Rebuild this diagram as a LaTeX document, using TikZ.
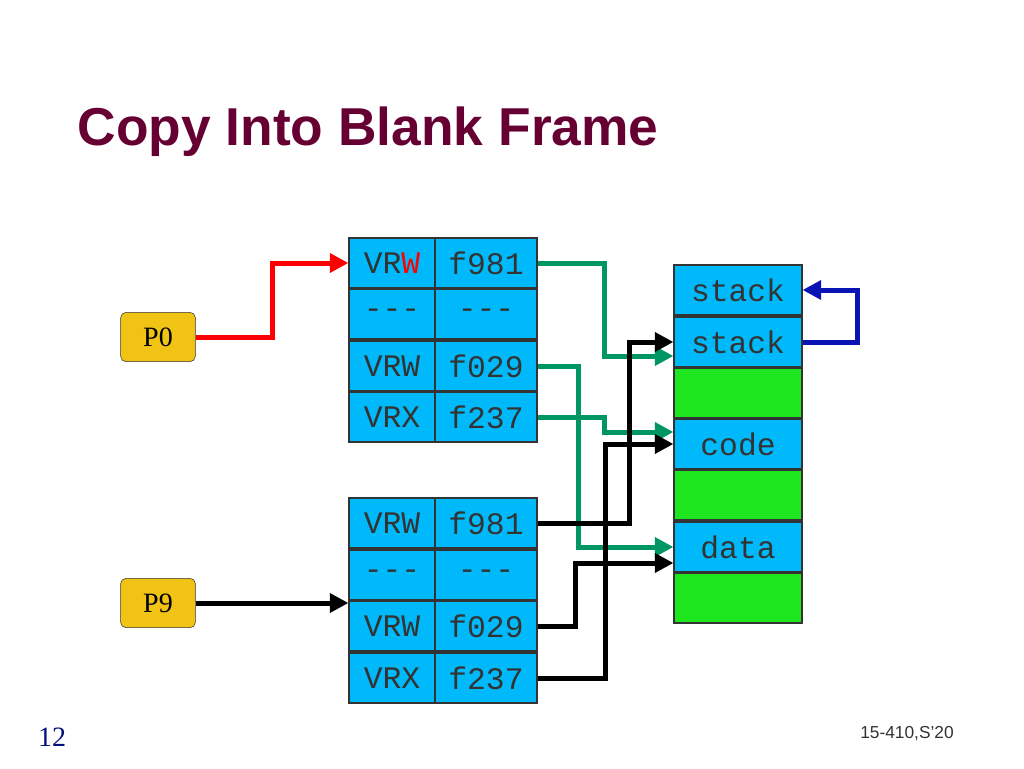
\documentclass[tikz,border=0pt]{standalone}
\usepackage{fontspec}
\setmainfont{Liberation Sans}
\newfontfamily\monof{Liberation Mono}
\newfontfamily\serf{Liberation Serif}
\usetikzlibrary{arrows.meta}
\definecolor{cyanbox}{RGB}{0,185,250}
\definecolor{greenbox}{RGB}{30,230,30}
\definecolor{titlec}{RGB}{102,0,51}
\definecolor{arrgreen}{RGB}{0,150,100}
\definecolor{arrblue}{RGB}{10,20,180}
\definecolor{yel}{RGB}{240,195,20}
\begin{document}
\begin{tikzpicture}[x=0.75pt,y=-0.75pt,
 cell/.style={draw=black!80,line width=0.8pt,fill=cyanbox,inner sep=0pt,font=\monof\fontsize{23.5}{23.5}\selectfont,text=black!80},
 c1/.style={cell,minimum width=64.5pt,minimum height=37.5pt},
 c2/.style={cell,minimum width=76.5pt,minimum height=37.5pt},
 mem/.style={cell,minimum width=96pt,minimum height=37.5pt},
 gmem/.style={mem,fill=greenbox},
 proc/.style={draw=black!80,fill=yel,rounded corners=4pt,minimum width=56pt,minimum height=37pt,inner sep=0pt,font=\serf\fontsize{21}{21}\selectfont},
 arr/.style={line width=3.75pt,-{Triangle[length=14pt,width=14pt]}}]
\useasboundingbox (0,0) rectangle (1024,768);
\fill[white] (0,0) rectangle (1024,768);
\node[anchor=west,font=\bfseries\fontsize{40}{40}\selectfont,text=titlec] (title) at (73,132) {Copy Into Blank Frame};
\node[font=\serf\fontsize{21}{21}\selectfont,text=arrblue!70!black] (pg) at (52,737) {12};
\node[font=\fontsize{13}{13}\selectfont,text=black!80] (crs) at (907,734) {15-410,S'20};
% table 1
\node[c1] (a1) at (392,263) {VR\textcolor{red}{W}}; \node[c2] (b1) at (486,263) {f981};
\node[c1] (a2) at (392,314) {-{}-{}-}; \node[c2] (b2) at (486,314) {-{}-{}-};
\node[c1] (a3) at (392,366) {VRW}; \node[c2] (b3) at (486,366) {f029};
\node[c1] (a4) at (392,417) {VRX}; \node[c2] (b4) at (486,417) {f237};
% table 2
\node[c1] (d1) at (392,523) {VRW}; \node[c2] (e1) at (486,523) {f981};
\node[c1] (d2) at (392,575) {-{}-{}-}; \node[c2] (e2) at (486,575) {-{}-{}-};
\node[c1] (d3) at (392,626) {VRW}; \node[c2] (e3) at (486,626) {f029};
\node[c1] (d4) at (392,678) {VRX}; \node[c2] (e4) at (486,678) {f237};
% memory
\node[mem] (m1) at (738,290) {stack};
\node[mem] (m2) at (738,342) {stack};
\node[gmem] (m3) at (738,393) {};
\node[mem] (m4) at (738,444) {code};
\node[gmem] (m5) at (738,495) {};
\node[mem] (m6) at (738,547) {data};
\node[gmem] (m7) at (738,598) {};
% processes
\node[proc] (p0) at (158,337) {P0};
\node[proc] (p9) at (158,603) {P9};
% arrows
\draw[arr,red] (p0.east) -- (272,337) |- (a1.west);
\draw[arr] (p9.east) -- (d3.west|-p9.east);
\draw[arr,arrgreen] (b1.east) -- (604,263) |- ([yshift=-10.5pt]m2.west);
\draw[arr,arrgreen] (b3.east) -- (578,366) |- (m6.west);
\draw[arr,arrgreen] (b4.east) -- (604,417) |- ([yshift=9pt]m4.west);
\draw[arr] (e1.east) -- (629,523) |- (m2.west);
\draw[arr] (e3.east) -- (575,626) |- ([yshift=-12pt]m6.west);
\draw[arr] (e4.east) -- (605,678) |- (m4.west);
\draw[arr,arrblue] (m2.east) -- (857,342) |- (m1.east);
\end{tikzpicture}
\end{document}
